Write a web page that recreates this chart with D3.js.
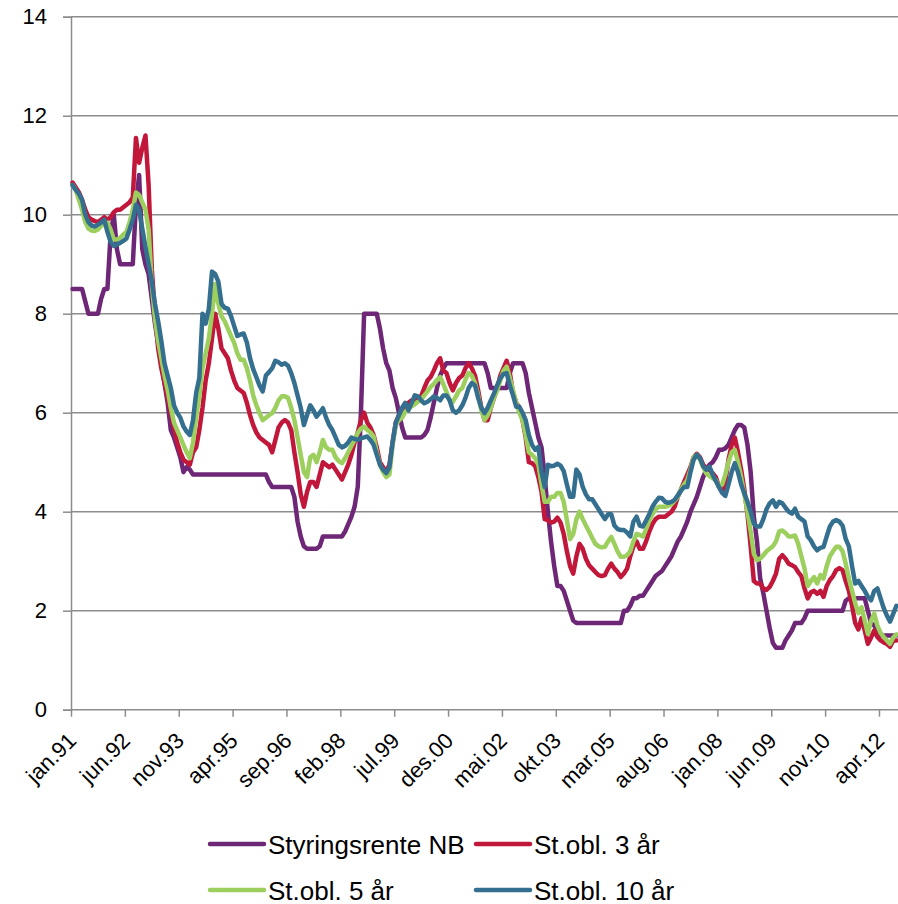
<!DOCTYPE html>
<html><head><meta charset="utf-8">
<script src="https://cdn.jsdelivr.net/npm/d3@7"></script>
<style>
html,body{margin:0;padding:0;background:#fff;}
svg{display:block;font-family:"Liberation Sans",Arial,sans-serif;}
</style></head>
<body><svg id="c" width="898" height="904"></svg>
<script>
// Monthly categories jan.91 .. sep.12
const monthNames = ["jan","feb","mar","apr","mai","jun","jul","aug","sep","okt","nov","des"];
const startYear = 1991, nMonths = 261;
const categories = d3.range(nMonths).map(i => monthNames[i % 12] + "." + String((startYear + Math.floor(i / 12)) % 100).padStart(2, "0"));
const tickLabels = ["jan.91","jun.92","nov.93","apr.95","sep.96","feb.98","jul.99","des.00","mai.02","okt.03","mar.05","aug.06","jan.08","jun.09","nov.10","apr.12"];
const yTicks = [0,2,4,6,8,10,12,14];

const styringsrente = [
 8.5,8.5,8.5,8.5,8.25,8.0,8.0,8.0,8.0,8.3,8.5,8.5,
 9.6,10.0,9.3,9.0,9.0,9.0,9.0,9.0,10.2,10.8,9.3,9.0,
 8.8,8.3,7.8,7.4,7.0,6.6,6.2,5.65,5.5,5.3,5.1,4.8,
 4.9,4.85,4.75,4.75,4.75,4.75,4.75,4.75,4.75,4.75,4.75,4.75,
 4.75,4.75,4.75,4.75,4.75,4.75,4.75,4.75,4.75,4.75,4.75,4.75,
 4.75,4.75,4.6,4.5,4.5,4.5,4.5,4.5,4.5,4.5,4.3,3.8,
 3.5,3.3,3.25,3.25,3.25,3.25,3.3,3.5,3.5,3.5,3.5,3.5,
 3.5,3.5,3.6,3.75,3.9,4.1,4.5,6.0,8.0,8.0,8.0,8.0,
 8.0,7.7,7.3,7.0,6.85,6.5,6.3,6.0,5.7,5.5,5.5,5.5,
 5.5,5.5,5.5,5.55,5.65,5.9,6.2,6.5,6.75,6.9,7.0,7.0,
 7.0,7.0,7.0,7.0,7.0,7.0,7.0,7.0,7.0,7.0,7.0,6.8,
 6.5,6.5,6.5,6.5,6.5,6.5,6.8,7.0,7.0,7.0,7.0,6.8,
 6.4,6.1,5.8,5.5,5.3,4.7,4.0,3.4,2.9,2.5,2.5,2.4,
 2.2,2.0,1.8,1.75,1.75,1.75,1.75,1.75,1.75,1.75,1.75,1.75,
 1.75,1.75,1.75,1.75,1.75,1.75,2.0,2.0,2.1,2.25,2.25,2.3,
 2.3,2.4,2.5,2.6,2.7,2.75,2.8,2.9,3.0,3.1,3.25,3.4,
 3.5,3.65,3.8,4.0,4.15,4.3,4.5,4.7,4.85,4.95,5.0,5.1,
 5.25,5.25,5.28,5.35,5.5,5.65,5.75,5.75,5.7,5.35,4.8,3.9,
 3.4,2.65,2.35,2.0,1.65,1.35,1.25,1.25,1.25,1.4,1.5,1.6,
 1.75,1.75,1.75,1.85,2.0,2.0,2.0,2.0,2.0,2.0,2.0,2.0,
 2.0,2.0,2.0,2.0,2.2,2.25,2.25,2.25,2.25,2.25,2.25,2.0,
 1.75,1.7,1.6,1.5,1.5,1.5,1.5,1.5,1.5
];
const stobl3 = [
 10.65,10.55,10.45,10.3,10.1,9.95,9.9,9.87,9.85,9.9,9.95,9.9,
 9.95,10.05,10.1,10.1,10.15,10.2,10.25,10.35,11.55,11.05,11.35,11.6,
 10.6,8.9,8.0,7.3,6.9,6.6,6.3,6.0,5.7,5.4,5.2,5.05,
 5.0,4.95,5.2,5.3,5.65,6.1,6.65,7.0,7.5,8.0,7.7,7.3,
 7.2,7.1,6.85,6.65,6.5,6.45,6.4,6.2,5.95,5.75,5.6,5.5,
 5.45,5.4,5.35,5.2,5.45,5.7,5.8,5.85,5.8,5.65,5.2,4.8,
 4.35,4.1,4.4,4.6,4.6,4.5,4.75,5.0,4.95,4.9,4.95,4.85,
 4.75,4.65,4.8,4.95,5.15,5.4,5.6,5.85,6.0,5.8,5.7,5.55,
 5.3,5.0,4.9,4.8,4.95,5.4,5.8,5.95,6.0,6.1,6.2,6.25,
 6.27,6.3,6.33,6.5,6.65,6.72,6.85,7.0,7.1,6.85,6.8,6.6,
 6.45,6.6,6.7,6.75,6.9,7.0,6.9,6.75,6.45,6.1,5.85,5.85,
 6.1,6.3,6.5,6.75,6.9,7.05,6.8,6.4,6.2,6.1,5.85,5.5,
 5.0,4.98,4.92,4.7,4.4,3.85,3.83,3.78,3.8,3.88,3.78,3.55,
 3.2,2.9,2.75,3.1,3.35,3.25,3.05,2.92,2.85,2.78,2.72,2.7,
 2.72,2.85,2.95,2.85,2.78,2.68,2.75,2.85,3.1,3.3,3.4,3.25,
 3.25,3.4,3.6,3.75,3.85,3.9,3.9,3.9,3.95,4.0,4.1,4.3,
 4.45,4.6,4.75,4.9,5.1,5.17,5.1,4.95,4.88,4.84,4.78,4.7,
 4.5,4.4,4.6,5.05,5.35,5.5,5.2,4.85,4.45,3.95,3.3,2.6,
 2.55,2.55,2.45,2.42,2.48,2.6,2.75,3.05,3.12,3.05,2.95,2.92,
 2.88,2.78,2.7,2.45,2.25,2.37,2.4,2.34,2.4,2.28,2.5,2.62,
 2.7,2.82,2.86,2.82,2.6,2.4,2.1,1.75,1.62,1.85,1.6,1.33,
 1.46,1.6,1.47,1.4,1.36,1.33,1.27,1.4,1.4
];
const stobl5 = [
 10.6,10.5,10.3,10.1,9.85,9.72,9.68,9.67,9.7,9.77,9.82,9.84,
 9.7,9.5,9.5,9.53,9.6,9.65,9.85,10.1,10.45,10.4,10.25,10.1,
 9.7,8.6,7.9,7.45,7.1,6.75,6.46,6.1,5.8,5.65,5.5,5.35,
 5.2,5.08,5.4,5.9,6.35,6.9,7.2,7.5,8.0,8.6,8.2,7.95,
 7.85,7.7,7.55,7.41,7.2,7.07,7.07,6.9,6.65,6.35,6.15,5.99,
 5.85,5.9,5.95,5.99,6.1,6.25,6.33,6.33,6.3,6.1,5.85,5.5,
 5.15,4.8,4.7,5.1,5.15,5.0,5.2,5.45,5.3,5.25,5.25,5.1,
 5.02,4.98,5.08,5.2,5.33,5.45,5.59,5.68,5.72,5.65,5.6,5.52,
 5.2,4.95,4.8,4.7,4.75,5.35,5.75,5.85,5.9,6.02,6.08,6.13,
 6.17,6.22,6.26,6.35,6.43,6.52,6.58,6.66,6.72,6.58,6.42,6.25,
 6.22,6.33,6.45,6.5,6.67,6.8,6.75,6.6,6.35,6.05,5.85,5.95,
 6.1,6.3,6.45,6.65,6.85,6.93,6.7,6.45,6.2,6.0,5.85,5.55,
 5.2,5.15,5.08,4.95,4.55,4.2,4.2,4.3,4.3,4.38,4.38,4.2,
 3.83,3.45,3.55,3.85,4.0,3.85,3.72,3.6,3.47,3.35,3.3,3.28,
 3.29,3.4,3.49,3.35,3.2,3.09,3.09,3.12,3.2,3.4,3.55,3.53,
 3.5,3.65,3.82,3.95,4.05,4.1,4.1,4.1,4.12,4.15,4.22,4.3,
 4.45,4.55,4.64,4.85,5.1,5.15,5.05,4.9,4.77,4.72,4.68,4.64,
 4.5,4.55,4.75,5.0,5.2,5.25,5.0,4.7,4.35,4.0,3.6,3.15,
 3.02,3.05,3.12,3.2,3.25,3.3,3.4,3.6,3.62,3.57,3.5,3.5,
 3.52,3.35,3.1,2.85,2.5,2.6,2.68,2.55,2.72,2.65,2.9,3.1,
 3.2,3.29,3.29,3.2,2.95,2.65,2.4,2.15,1.95,2.07,1.8,1.53,
 1.8,1.94,1.7,1.55,1.47,1.4,1.33,1.46,1.52
];
const stobl10 = [
 10.6,10.5,10.42,10.3,10.0,9.85,9.78,9.76,9.8,9.84,9.9,9.65,
 9.45,9.37,9.4,9.43,9.47,9.52,9.7,9.9,10.2,10.1,9.72,9.35,
 9.0,8.65,8.2,7.85,7.45,7.0,6.75,6.5,6.15,6.0,5.9,5.72,
 5.62,5.55,5.85,6.4,6.7,8.0,7.8,8.1,8.85,8.8,8.65,8.2,
 8.12,8.1,7.95,7.75,7.55,7.58,7.6,7.42,7.1,6.88,6.72,6.55,
 6.43,6.75,6.82,6.9,7.05,7.02,6.97,7.0,6.95,6.8,6.6,6.35,
 6.1,5.75,5.95,6.15,6.05,5.92,6.0,6.09,5.9,5.75,5.65,5.5,
 5.35,5.3,5.33,5.4,5.5,5.47,5.45,5.48,5.5,5.52,5.45,5.35,
 5.15,4.95,4.85,4.78,4.9,5.4,5.8,5.95,6.1,6.2,6.05,6.2,
 6.35,6.33,6.25,6.19,6.22,6.27,6.33,6.3,6.25,6.35,6.35,6.25,
 6.05,6.0,6.05,6.15,6.3,6.5,6.6,6.55,6.3,6.1,5.99,6.1,
 6.25,6.39,6.55,6.7,6.78,6.8,6.55,6.35,6.12,6.12,6.0,5.85,
 5.55,5.35,5.25,5.31,4.8,4.5,4.95,4.92,4.93,4.97,4.93,4.82,
 4.55,4.3,4.3,4.85,4.75,4.5,4.35,4.25,4.25,4.15,4.05,3.95,
 3.85,3.95,3.95,3.72,3.65,3.63,3.63,3.58,3.5,3.8,3.9,3.72,
 3.7,3.82,3.95,4.1,4.2,4.28,4.27,4.2,4.18,4.2,4.24,4.33,
 4.42,4.5,4.5,4.8,5.05,5.15,5.08,4.92,4.85,4.91,4.75,4.62,
 4.5,4.38,4.32,4.55,4.8,4.98,4.8,4.55,4.37,4.2,4.0,3.76,
 3.7,3.7,3.85,4.05,4.17,4.23,4.1,4.2,4.17,4.08,4.0,3.96,
 4.06,3.9,3.85,3.8,3.5,3.42,3.3,3.22,3.27,3.29,3.5,3.7,
 3.8,3.83,3.8,3.72,3.45,3.3,2.9,2.55,2.6,2.5,2.4,2.28,
 2.21,2.4,2.45,2.25,2.05,1.9,1.78,1.94,2.1
];

const seriesNames = ["Styringsrente NB","St.obl. 3 år","St.obl. 5 år","St.obl. 10 år"];
const seriesValues = [styringsrente, stobl3, stobl5, stobl10];
const seriesColors = ["#6E2677","#C1173B","#9DCF5F","#346F8F"];

const svg = d3.select("#c");
const L = 71, R = 898, T = 16.7, B = 709.7;
const x = d3.scaleLinear().domain([0, nMonths]).range([L, R]);
const y = d3.scaleLinear().domain([0, 14]).range([B, T]);
const grey = "#8C8C8C";

// gridlines + y axis
const yAxis = d3.axisLeft(y).tickValues(yTicks).tickSize(8).tickPadding(16).tickFormat(d3.format("d"));
const gy = svg.append("g").attr("transform", `translate(${L},0)`).call(yAxis);
gy.select(".domain").attr("stroke", grey).attr("stroke-width", 1.5);
gy.selectAll(".tick line").attr("stroke", grey).attr("stroke-width", 1.5);
gy.selectAll(".tick text").attr("font-size", 22).attr("fill", "#000").attr("font-family", "Liberation Sans, Arial, sans-serif");

svg.append("g").selectAll("line").data(yTicks.filter(d => d > 0)).join("line")
  .attr("x1", L).attr("x2", R).attr("y1", d => y(d)).attr("y2", d => y(d))
  .attr("stroke", grey).attr("stroke-width", 1.5);

// x axis
const tickIdx = tickLabels.map((_, k) => k * 17);
const xAxis = d3.axisBottom(x).tickValues(tickIdx).tickSize(7).tickFormat("");
const gx = svg.append("g").attr("transform", `translate(0,${B})`).call(xAxis);
gx.select(".domain").attr("stroke", grey).attr("stroke-width", 1.5).attr("d", `M${L},0H${R}`);
gx.selectAll(".tick line").attr("stroke", grey).attr("stroke-width", 1.5);

svg.append("g").selectAll("text").data(tickLabels).join("text")
  .attr("transform", (d, k) => `translate(${x(categories.indexOf(d) + 0.5) + 5},742) rotate(-45)`)
  .attr("text-anchor", "end")
  .attr("font-size", 22).attr("fill", "#000")
  .text(d => d);

// lines
const line = d3.line().x((d, i) => x(i + 0.5)).y(d => y(d)).curve(d3.curveLinear);
svg.append("g").selectAll("path").data(seriesValues).join("path")
  .attr("d", d => line(d))
  .attr("fill", "none")
  .attr("stroke", (d, i) => seriesColors[i])
  .attr("stroke-width", 4.5)
  .attr("stroke-linejoin", "round")
  .attr("stroke-linecap", "round");

// legend
const legPos = [[210, 844], [476, 844], [210, 890], [476, 890]];
const lg = svg.append("g").selectAll("g").data(seriesNames).join("g")
  .attr("transform", (d, i) => `translate(${legPos[i][0]},${legPos[i][1]})`);
lg.append("line").attr("x1", 0).attr("x2", 54).attr("y1", 0).attr("y2", 0)
  .attr("stroke", (d, i) => seriesColors[i]).attr("stroke-width", 4.5).attr("stroke-linecap", "round");
lg.append("text").attr("x", 58).attr("y", 9.5).attr("font-size", 26).attr("fill", "#000").text(d => d);
</script></body></html>
